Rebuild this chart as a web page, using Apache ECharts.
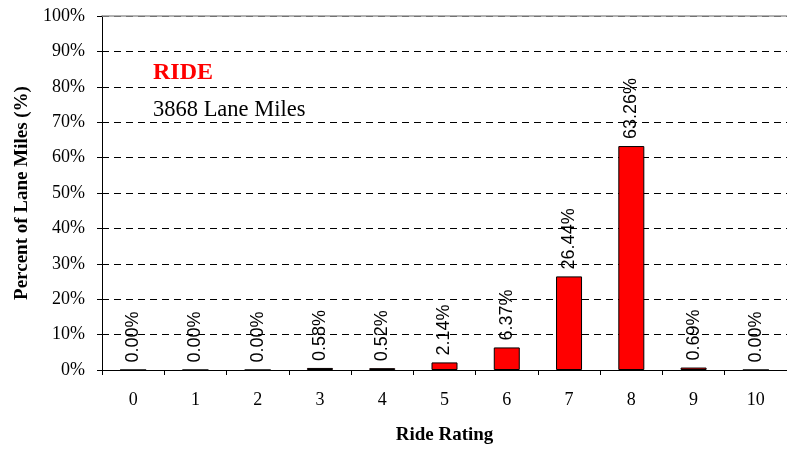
<!DOCTYPE html>
<html>
<head>
<meta charset="utf-8">
<script src="https://cdn.jsdelivr.net/npm/echarts@6/dist/echarts.min.js"></script>
<style>html,body{margin:0;padding:0;background:#fff}#c{width:787px;height:450px}</style>
</head>
<body>
<div id="c"></div>
<script>
const categories = ['0','1','2','3','4','5','6','7','8','9','10'];
const values = [0.00, 0.00, 0.00, 0.58, 0.52, 2.14, 6.37, 26.44, 63.26, 0.69, 0.00];
const yTicks = [0,10,20,30,40,50,60,70,80,90,100];
const titleText = 'RIDE';
const subText = '3868 Lane Miles';

const serif = '"Liberation Serif","Times New Roman",serif';
const chart = echarts.init(document.getElementById('c'));
chart.setOption({
  animation: false,
  grid: {left: 102, top: 16, bottom: 76, width: 698.5},
  graphic: [
    {type: 'text', left: 153, top: 61, style: {text: titleText, font: 'bold 24px ' + serif, fill: '#ff0000'}},
    {type: 'text', left: 153, top: 99, style: {text: subText, font: '22.5px ' + serif, fill: '#000'}}
  ],
  xAxis: [{
    type: 'category',
    data: categories,
    boundaryGap: true,
    name: 'Ride Rating',
    nameLocation: 'middle',
    nameGap: 56,
    nameTextStyle: {fontFamily: serif, fontWeight: 'bold', fontSize: 19, color: '#000'},
    axisLine: {lineStyle: {color: '#000', width: 1}},
    axisTick: {show: true, alignWithLabel: false, length: 5, lineStyle: {color: '#000'}},
    axisLabel: {fontFamily: serif, fontSize: 18, color: '#000', margin: 21}
  }, {
    type: 'category',
    data: categories,
    position: 'top',
    axisLine: {lineStyle: {color: '#999', width: 1.5}},
    axisTick: {show: false},
    axisLabel: {show: false}
  }],
  yAxis: {
    type: 'value',
    min: 0, max: 100, interval: 10,
    name: 'Percent of Lane Miles (%)',
    nameLocation: 'middle',
    nameGap: 70,
    nameRotate: 90,
    nameTextStyle: {fontFamily: serif, fontWeight: 'bold', fontSize: 19, color: '#000'},
    axisLine: {show: true, lineStyle: {color: '#000', width: 1}},
    axisTick: {show: true, length: 5, lineStyle: {color: '#000'}},
    axisLabel: {fontFamily: serif, fontSize: 18, color: '#000', margin: 17,
      formatter: v => yTicks.includes(v) ? v + '%' : ''},
    splitLine: {show: true, lineStyle: {color: '#000', type: [7, 5], width: 1}}
  },
  series: [{
    type: 'bar',
    data: values,
    barWidth: 26,
    itemStyle: {color: '#ff0000', borderColor: '#000', borderWidth: 1},
    label: {
      show: true,
      position: 'top',
      rotate: 90,
      align: 'left',
      verticalAlign: 'middle',
      distance: 7,
      fontFamily: '"Liberation Sans", Arial, sans-serif',
      fontSize: 18,
      color: '#000',
      formatter: p => p.value.toFixed(2) + '%'
    }
  }]
});
</script>
</body>
</html>
